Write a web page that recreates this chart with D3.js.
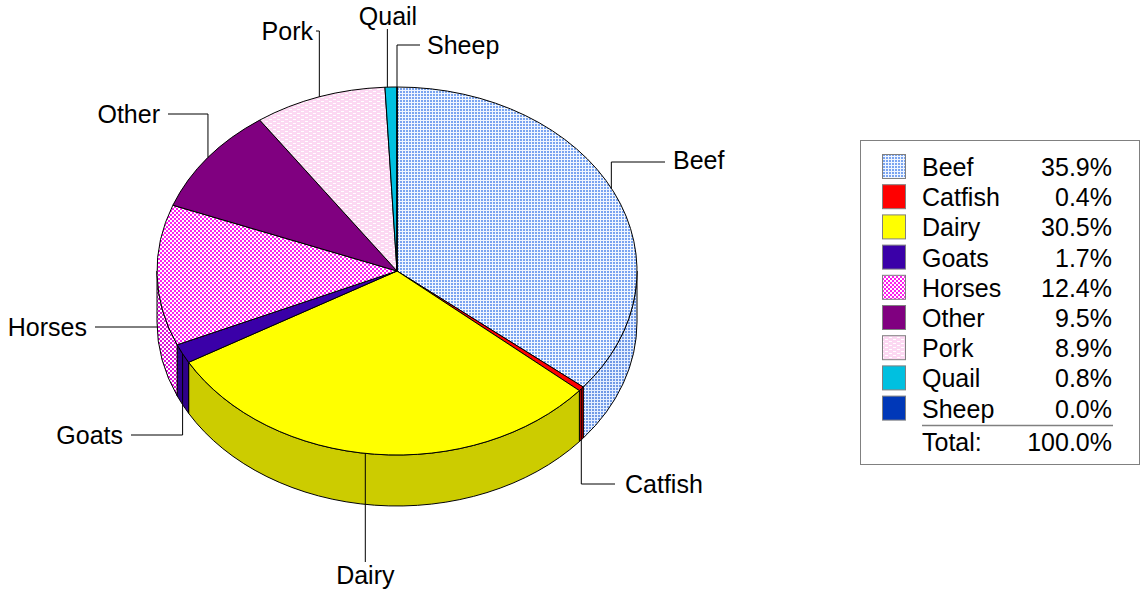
<!DOCTYPE html>
<html>
<head>
<meta charset="utf-8">
<script src="https://cdn.jsdelivr.net/npm/d3@7"></script>
<style>
  html, body { margin: 0; padding: 0; background: #fff; }
  svg { display: block; font-family: "Liberation Sans", Arial, sans-serif; }
</style>
</head>
<body>
<svg id="chart" width="1141" height="591"></svg>
<script>
// Share of sales by commodity (percent)
const categories = ["Beef", "Catfish", "Dairy", "Goats", "Horses", "Other", "Pork", "Quail", "Sheep"];
const shares     = [35.9, 0.4, 30.5, 1.7, 12.4, 9.5, 8.9, 0.8, 0.0];
const totalLabel = "Total:";

// Fills for the top faces and the (darker) side walls
const topFill  = { Beef: "url(#pBeef)", Catfish: "#ff0000", Dairy: "#ffff00", Goats: "#3a00a8",
                   Horses: "url(#pHorses)", Other: "#800080", Pork: "url(#pPork)", Quail: "#00c0e0", Sheep: "#0038b8" };
const sideFill = { Beef: "url(#pBeefSide)", Catfish: "#cc0000", Dairy: "#cccc00", Goats: "#2e0088",
                   Horses: "url(#pHorsesSide)", Other: "#660066", Pork: "url(#pPork)", Quail: "#009ab4", Sheep: "#002c94" };

const svg = d3.select("#chart");
const defs = svg.append("defs");

function grid(id, bg, line) {
  const p = defs.append("pattern").attr("id", id).attr("patternUnits", "userSpaceOnUse")
    .attr("width", 3).attr("height", 3);
  p.append("rect").attr("width", 3).attr("height", 3).attr("fill", bg);
  p.append("rect").attr("width", 3).attr("height", 1).attr("fill", line);
  p.append("rect").attr("width", 1).attr("height", 3).attr("fill", line);
}
grid("pBeef", "#7aa4f0", "#f0f6ff");
grid("pBeefSide", "#7099e6", "#e4eeff");

function dots(id, dot) {
  const p = defs.append("pattern").attr("id", id).attr("patternUnits", "userSpaceOnUse")
    .attr("width", 4).attr("height", 4);
  p.append("rect").attr("width", 4).attr("height", 4).attr("fill", "#ffffff");
  p.append("rect").attr("x", 0).attr("y", 0).attr("width", 2).attr("height", 2).attr("fill", dot);
  p.append("rect").attr("x", 2).attr("y", 2).attr("width", 2).attr("height", 2).attr("fill", dot);
}
dots("pHorses", "#ff1cf0");
dots("pHorsesSide", "#e010d8");

(function () {
  const p = defs.append("pattern").attr("id", "pPork").attr("patternUnits", "userSpaceOnUse")
    .attr("width", 8).attr("height", 4);
  p.append("rect").attr("width", 8).attr("height", 4).attr("fill", "#fcd8f2");
  p.append("rect").attr("x", 1).attr("y", 1).attr("width", 3).attr("height", 1).attr("fill", "#ffffff");
  p.append("rect").attr("x", 5).attr("y", 3).attr("width", 3).attr("height", 1).attr("fill", "#ffffff");
})();

// Ellipse geometry of the pie
const cx = 397, cy = 271, rx = 240, ry = 184, depth = 51;
const pt = (a, dy = 0) => [cx + rx * Math.sin(a), cy - ry * Math.cos(a) + dy];

const data = categories.map((c, i) => ({ name: c, value: shares[i] }));
const arcs = d3.pie().sort(null).value(d => d.value)(data);

function topPath(d) {
  const [x0, y0] = pt(d.startAngle), [x1, y1] = pt(d.endAngle);
  const large = d.endAngle - d.startAngle > Math.PI ? 1 : 0;
  return `M${cx},${cy}L${x0},${y0}A${rx},${ry} 0 ${large} 1 ${x1},${y1}Z`;
}
function sidePath(s, e) {
  const [x0, y0] = pt(s), [x1, y1] = pt(e);
  const [bx0, by0] = pt(s, depth), [bx1, by1] = pt(e, depth);
  return `M${x0},${y0}A${rx},${ry} 0 0 1 ${x1},${y1}L${bx1},${by1}A${rx},${ry} 0 0 0 ${bx0},${by0}Z`;
}

const pie = svg.append("g");
// Front walls (the half of the rim facing the viewer)
arcs.forEach(d => {
  const s = Math.max(d.startAngle, Math.PI / 2), e = Math.min(d.endAngle, 3 * Math.PI / 2);
  if (e > s) {
    pie.append("path").attr("d", sidePath(s, e))
      .attr("fill", sideFill[d.data.name]).attr("stroke", "#000").attr("stroke-width", 1)
      .attr("stroke-linejoin", "round");
  }
});
// Top faces
pie.selectAll("path.top").data(arcs).join("path").attr("class", "top")
  .attr("d", topPath)
  .attr("fill", d => topFill[d.data.name])
  .attr("stroke", "#000").attr("stroke-width", 1).attr("stroke-linejoin", "round");

// Labels with elbow leader lines; "at" is where along the slice the leader attaches
const labelLayout = {
  Beef:    { tx: 673, ty: 160, anchor: "start",  lx: 665, ly: 162, mode: "h", at: 0.49 },
  Catfish: { tx: 625, ty: 484, anchor: "start",  lx: 615, ly: 484, mode: "h", at: 0.5 },
  Dairy:   { tx: null, ty: 575, anchor: "middle", ly: 562, mode: "v", at: 0.52 },
  Goats:   { tx: 123, ty: 435, anchor: "end",    lx: 131, ly: 435, mode: "h", at: 0.5 },
  Horses:  { tx: 87,  ty: 327, anchor: "end",    lx: 95,  ly: 327, mode: "flat", at: 0.5 },
  Other:   { tx: 160, ty: 114, anchor: "end",    lx: 168, ly: 114, mode: "h", at: 0.5 },
  Pork:    { tx: 313, ty: 31,  anchor: "end",    lx: 316, ly: 31,  mode: "h", at: 0.5 },
  Quail:   { tx: 388, ty: 16, anchor: "middle", ly: 29,  mode: "v", at: 0.2 },
  Sheep:   { tx: 427, ty: 45,  anchor: "start",  lx: 420, ly: 45,  mode: "h", at: 0.5 }
};
const labels = svg.append("g");
arcs.forEach(d => {
  const L = labelLayout[d.data.name];
  const a = d.startAngle + (d.endAngle - d.startAngle) * L.at;
  const [ax, ay] = pt(a);
  let pts;
  if (L.mode === "h") pts = [[L.lx, L.ly], [ax, L.ly], [ax, ay]];
  else if (L.mode === "v") pts = [[ax, L.ly], [ax, ay]];
  else pts = [[L.lx, L.ly], [ax + 1, L.ly]];
  labels.append("path").attr("d", d3.line()(pts)).attr("fill", "none")
    .attr("stroke", "#000").attr("stroke-width", 1);
  labels.append("text")
    .attr("x", L.tx === null ? ax : L.tx).attr("y", L.ty)
    .attr("text-anchor", L.anchor).attr("dominant-baseline", "central")
    .attr("font-size", 25).attr("fill", "#000").text(d.data.name);
});

// Legend
const lg = svg.append("g");
lg.append("rect").attr("x", 860.5).attr("y", 140.5).attr("width", 279).attr("height", 324)
  .attr("fill", "#fff").attr("stroke", "#808080").attr("stroke-width", 1);
const fmt = v => d3.format(".1f")(v) + "%";
data.forEach((d, i) => {
  const y = 154 + i * 30.2;
  lg.append("rect").attr("x", 882.5).attr("y", y + 0.5).attr("width", 23).attr("height", 24)
    .attr("fill", topFill[d.name]).attr("stroke", "#808080").attr("stroke-width", 1);
  lg.append("text").attr("x", 922).attr("y", y + 22).attr("font-size", 25).text(d.name);
  lg.append("text").attr("x", 1112).attr("y", y + 22).attr("font-size", 25)
    .attr("text-anchor", "end").text(fmt(d.value));
});
lg.append("line").attr("x1", 922).attr("x2", 1113).attr("y1", 425.5).attr("y2", 425.5)
  .attr("stroke", "#808080").attr("stroke-width", 1.5);
lg.append("text").attr("x", 922).attr("y", 451).attr("font-size", 25).text(totalLabel);
lg.append("text").attr("x", 1112).attr("y", 451).attr("font-size", 25).attr("text-anchor", "end")
  .text(fmt(100));
</script>
</body>
</html>
